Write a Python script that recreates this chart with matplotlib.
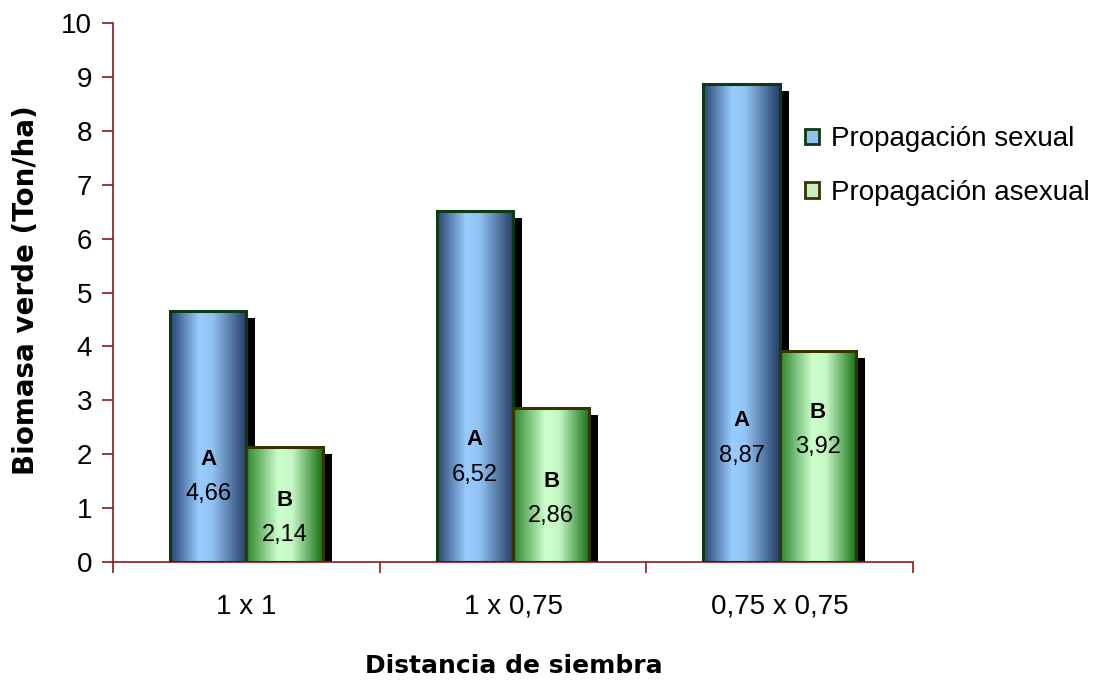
import numpy as np
import matplotlib
matplotlib.use("Agg")
import matplotlib.pyplot as plt
from matplotlib.patches import Patch, Rectangle
from matplotlib.colors import LinearSegmentedColormap
import matplotlib.transforms as mtransforms

plt.rcParams['font.family'] = ['Liberation Sans', 'DejaVu Sans']

categories = ["1 x 1", "1 x 0,75", "0,75 x 0,75"]
sexual = [4.66, 6.52, 8.87]
asexual = [2.14, 2.86, 3.92]
sexual_letters = ["A", "A", "A"]
asexual_letters = ["B", "B", "B"]
series_names = ["Propagación sexual", "Propagación asexual"]

# vertical placement of the in-bar annotations (data units)
sexual_label_y = [1.91, 2.27, 2.62]
asexual_label_y = [1.15, 1.50, 2.78]

fig = plt.figure(figsize=(11.09, 6.80), dpi=100)
ax = fig.add_axes([0.1019, 0.1735, 0.7214, 0.7927])

blue_cmap = LinearSegmentedColormap.from_list(
    "blue", [(0, "#274370"), (0.38, "#99ccff"), (0.55, "#93c3f3"), (1, "#233c66")])
green_cmap = LinearSegmentedColormap.from_list(
    "green", [(0, "#2c842c"), (0.42, "#ccffcc"), (0.6, "#c6f7c6"), (1, "#127012")])

width = 0.286
x = np.arange(len(categories))
grad = np.linspace(0, 1, 256).reshape(1, -1)
shadow_tr = ax.transData + mtransforms.ScaledTranslation(9 / 100, -7 / 100, fig.dpi_scale_trans)


def draw_bars(xs, heights, cmap, edge):
    for xl, h in zip(xs, heights):
        sh = Rectangle((xl, 0), width, h, facecolor="black", edgecolor="none",
                       transform=shadow_tr, zorder=1)
        ax.add_patch(sh)
        sh.set_clip_path(ax.patch)
        ax.imshow(grad, cmap=cmap, extent=[xl, xl + width, 0, h],
                  aspect="auto", zorder=2, interpolation="bilinear")
        ax.add_patch(Rectangle((xl, 0), width, h, facecolor="none",
                               edgecolor=edge, linewidth=2.2, zorder=3))


draw_bars(x - width, sexual, blue_cmap, "#0b3a14")
draw_bars(x, asexual, green_cmap, "#3a3300")

for i in range(len(categories)):
    ax.text(x[i] - width / 2, sexual_label_y[i], sexual_letters[i], ha="center",
            va="center", fontsize=16, fontweight="bold", zorder=4)
    ax.text(x[i] - width / 2, sexual_label_y[i] - 0.65, f"{sexual[i]:.2f}".replace(".", ","),
            ha="center", va="center", fontsize=17, zorder=4)
    ax.text(x[i] + width / 2, asexual_label_y[i], asexual_letters[i], ha="center",
            va="center", fontsize=16, fontweight="bold", zorder=4)
    ax.text(x[i] + width / 2, asexual_label_y[i] - 0.65, f"{asexual[i]:.2f}".replace(".", ","),
            ha="center", va="center", fontsize=17, zorder=4)

ax.set_xlim(-0.5, len(categories) - 0.5)
ax.set_ylim(0, 10)
ax.set_yticks(range(0, 11))
ax.set_xticks(x)
ax.set_xticklabels(categories)
ax.set_xticks(np.arange(-0.5, len(categories)), minor=True)
ax.tick_params(axis="x", which="major", length=0, pad=23, labelsize=20)
ax.tick_params(axis="x", which="minor", length=8, color="#8b1a1a", width=1.2, direction="out")
ax.tick_params(axis="y", length=8, color="#8b1a1a", width=1.2, direction="out", labelsize=20, pad=7)

for s in ["top", "right"]:
    ax.spines[s].set_visible(False)
for s in ["left", "bottom"]:
    ax.spines[s].set_color("#8b1a1a")
    ax.spines[s].set_linewidth(1.2)

fig.text(26 / 1109, 1 - 290 / 680, "Biomasa verde (Ton/ha)", rotation=90,
         ha="center", va="center", fontsize=20, fontweight="bold", family=["DejaVu Sans"])
fig.text(514 / 1109, 1 - 666 / 680, "Distancia de siembra", ha="center", va="center",
         fontsize=18, fontweight="bold", family=["DejaVu Sans"])

handles = [Patch(facecolor="#8fc0f0", edgecolor="#0b3a14", linewidth=2),
           Patch(facecolor="#c2f2c2", edgecolor="#3a3300", linewidth=2)]
fig.legend(handles, series_names, loc="upper left", bbox_to_anchor=(0.703, 0.851),
           frameon=False, fontsize=20, handlelength=0.5, handleheight=0.5,
           handletextpad=0.45, labelspacing=1.0)

fig.savefig("out.png", dpi=100)
